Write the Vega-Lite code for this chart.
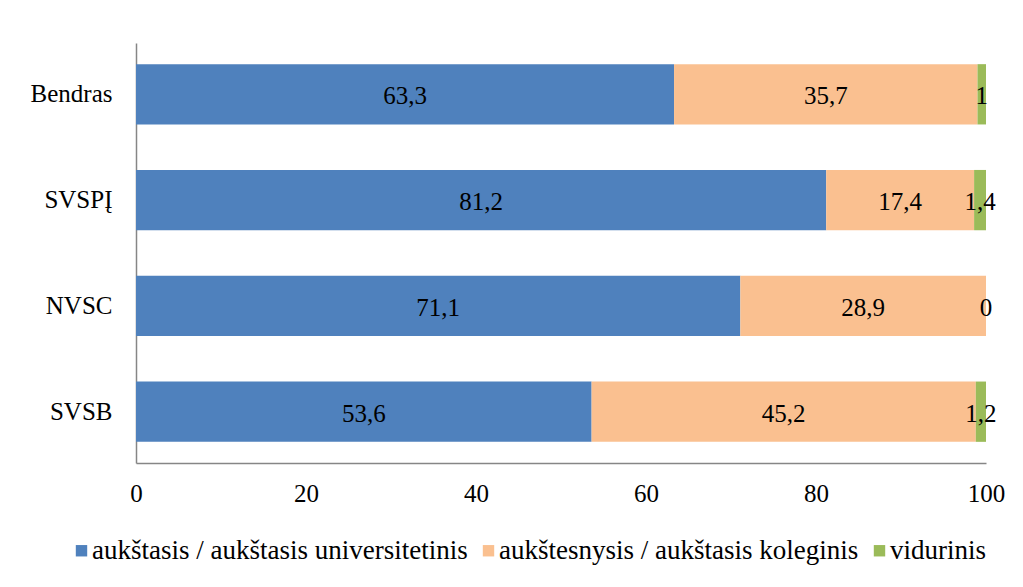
{
  "$schema": "https://vega.github.io/schema/vega-lite/v6.json",
  "autosize": {"type": "none"},
  "width": 850,
  "height": 420,
  "padding": {"left": 136, "top": 43, "right": 37, "bottom": 124},
  "background": "white",
  "config": {
    "font": "Liberation Serif",
    "view": {"stroke": null},
    "locale": {"number": {"decimal": ",", "thousands": "\u00a0", "grouping": [3], "currency": ["", " €"]}}
  },
  "data": {
    "values": [
      {"cat": "Bendras", "series": "aukštasis / aukštasis universitetinis", "k": 1, "v": 63.3},
      {"cat": "Bendras", "series": "aukštesnysis / aukštasis koleginis", "k": 2, "v": 35.7},
      {"cat": "Bendras", "series": "vidurinis", "k": 3, "v": 1},
      {"cat": "SVSPĮ", "series": "aukštasis / aukštasis universitetinis", "k": 1, "v": 81.2},
      {"cat": "SVSPĮ", "series": "aukštesnysis / aukštasis koleginis", "k": 2, "v": 17.4},
      {"cat": "SVSPĮ", "series": "vidurinis", "k": 3, "v": 1.4},
      {"cat": "NVSC", "series": "aukštasis / aukštasis universitetinis", "k": 1, "v": 71.1},
      {"cat": "NVSC", "series": "aukštesnysis / aukštasis koleginis", "k": 2, "v": 28.9},
      {"cat": "NVSC", "series": "vidurinis", "k": 3, "v": 0},
      {"cat": "SVSB", "series": "aukštasis / aukštasis universitetinis", "k": 1, "v": 53.6},
      {"cat": "SVSB", "series": "aukštesnysis / aukštasis koleginis", "k": 2, "v": 45.2},
      {"cat": "SVSB", "series": "vidurinis", "k": 3, "v": 1.2}
    ]
  },
  "transform": [
    {"stack": "v", "groupby": ["cat"], "sort": [{"field": "k", "order": "ascending"}], "as": ["x0", "x1"]}
  ],
  "encoding": {
    "y": {
      "field": "cat",
      "type": "nominal",
      "sort": ["Bendras", "SVSPĮ", "NVSC", "SVSB"],
      "scale": {"paddingInner": 0.43, "paddingOuter": 0.2},
      "axis": {
        "title": null,
        "ticks": false,
        "domainColor": "#868686",
        "domainWidth": 1.5,
        "labelFont": "Liberation Serif",
        "labelFontSize": 25,
        "labelColor": "black",
        "labelPadding": 24
      }
    }
  },
  "layer": [
    {
      "mark": {"type": "bar"},
      "encoding": {
        "x": {
          "field": "x0",
          "type": "quantitative",
          "scale": {"domain": [0, 100], "nice": false},
          "axis": {
            "title": null,
            "values": [0, 20, 40, 60, 80, 100],
            "grid": false,
            "ticks": false,
            "labelFlush": false,
            "domainColor": "#868686",
            "domainWidth": 1.5,
            "labelFont": "Liberation Serif",
            "labelFontSize": 25,
            "labelColor": "black",
            "labelPadding": 18
          }
        },
        "x2": {"field": "x1"},
        "color": {
          "field": "series",
          "type": "nominal",
          "scale": {
            "domain": ["aukštasis / aukštasis universitetinis", "aukštesnysis / aukštasis koleginis", "vidurinis"],
            "range": ["#4F81BD", "#FAC090", "#9BBB59"]
          },
          "legend": {
            "title": null,
            "orient": "none",
            "legendX": -68,
            "legendY": 494,
            "direction": "horizontal",
            "symbolType": "square",
            "symbolSize": 130,
            "symbolStrokeWidth": 0,
            "labelFont": "Liberation Serif",
            "labelFontSize": 27,
            "labelColor": "black",
            "labelOffset": -3,
            "columnPadding": 7,
            "labelLimit": 500
          }
        }
      }
    },
    {
      "transform": [
        {"fold": ["x0", "x1"], "as": ["edge", "pos"]},
        {"aggregate": [{"op": "mean", "field": "pos", "as": "mid"}], "groupby": ["cat", "series", "v"]}
      ],
      "mark": {"type": "text", "font": "Liberation Serif", "fontSize": 25, "color": "black", "align": "center", "baseline": "middle", "dy": 2},
      "encoding": {
        "x": {"field": "mid", "type": "quantitative"},
        "text": {"field": "v", "type": "quantitative", "format": ".1~f"}
      }
    }
  ]
}
